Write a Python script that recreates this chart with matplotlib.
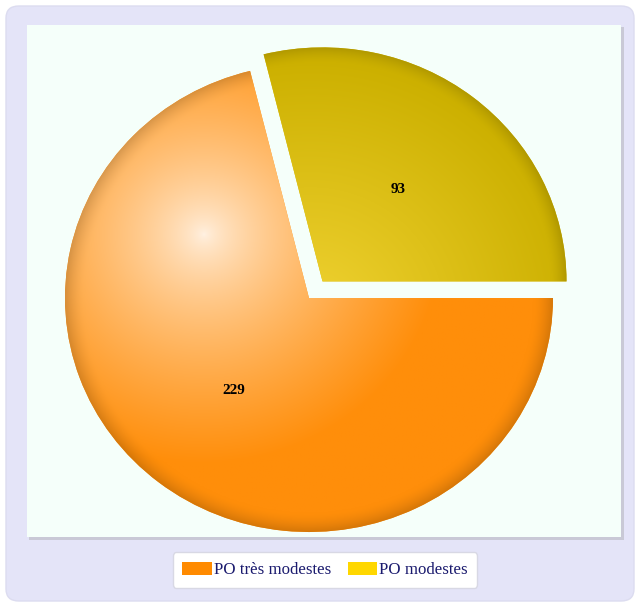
import numpy as np
import matplotlib
matplotlib.use("Agg")
import matplotlib.pyplot as plt
from matplotlib.patches import FancyBboxPatch, Rectangle, Patch
from matplotlib.colors import to_rgb

# ---- data ----
categories = ["PO très modestes", "PO modestes"]
values = [229, 93]
legend_colors = ["#ff8a00", "#ffd700"]
explode = [0.0, 0.09]

W, H = 637, 604
fig = plt.figure(figsize=(W / 100, H / 100), dpi=100)
fig.patch.set_facecolor("white")

def fbox(x0, y0, x1, y1):
    return (x0 / W, 1 - y1 / H, (x1 - x0) / W, (y1 - y0) / H)

# outer lavender rounded box
bx = fbox(6, 6, 634, 601)
fig.patches.append(FancyBboxPatch((bx[0], bx[1]), bx[2], bx[3],
                                  boxstyle="round,pad=0,rounding_size=0.02",
                                  transform=fig.transFigure, facecolor="#e4e4f8",
                                  edgecolor="#dcdcf0", lw=1, zorder=0))
# panel shadow + panel
sx = fbox(29, 27, 624, 540)
fig.patches.append(Rectangle((sx[0], sx[1]), sx[2], sx[3], transform=fig.transFigure,
                             facecolor="#c9c9d6", edgecolor="none", zorder=0.1))
px = fbox(27, 25, 621, 537)
fig.patches.append(Rectangle((px[0], px[1]), px[2], px[3], transform=fig.transFigure,
                             facecolor="#f5fffa", edgecolor="none", zorder=0.2))

# pie axes (ellipse 488 x 468 px centred at 309,298), padded so exploded slice fits
L = 1.15
RX, RY, CX, CY = 244, 234, 309, 298
ax = fig.add_axes(fbox(CX - RX * L, CY - RY * L, CX + RX * L, CY + RY * L))
ax.set_zorder(3)
ax.set_facecolor("none")
total = sum(values)
wedges, texts, autotexts = ax.pie(
    values, explode=explode, startangle=0, counterclock=False,
    colors=["#ff9a20", "#d8bc10"],
    autopct=lambda p: f"{round(p * total / 100)}", pctdistance=0.5,
    textprops=dict(family="Liberation Serif", fontweight="bold", fontsize=11, color="black"),
    wedgeprops=dict(linewidth=0))
ax.axis("off")

# gradients
n = 700
gx = np.linspace(-L, L, n)
GX, GY = np.meshgrid(gx, gx)

def grad_image(cx, cy, hx, hy, c_hi, c_base, scale, power, rim, rim_w):
    d = np.hypot(GX - (cx + hx), GY - (cy + hy))
    t = np.clip(d / scale, 0, 1) ** power
    hi = np.array(to_rgb(c_hi))
    base = np.array(to_rgb(c_base))
    img = hi[None, None, :] * (1 - t[..., None]) + base[None, None, :] * t[..., None]
    rr = np.hypot(GX - cx, GY - cy)
    dark = 1 - rim * np.clip((rr - (1 - rim_w)) / rim_w, 0, 1) ** 1.6
    return np.clip(img * dark[..., None], 0, 1)

specs = [
    dict(hx=-0.43, hy=0.27, c_hi="#fff2e4", c_base="#ff8e0a", scale=0.98, power=0.7,
         rim=0.16, rim_w=0.08),
    dict(hx=-0.05, hy=-0.15, c_hi="#f0d232", c_base="#ccb000", scale=1.1, power=1.0,
         rim=0.14, rim_w=0.07),
]
for w, s in zip(wedges, specs):
    cx, cy = w.center
    img = grad_image(cx, cy, s["hx"], s["hy"], s["c_hi"], s["c_base"],
                     s["scale"], s["power"], s["rim"], s["rim_w"])
    im = ax.imshow(img, extent=(-L, L, -L, L), origin="lower",
                   aspect="auto", zorder=w.get_zorder() + 0.1, interpolation="bilinear")
    im.set_clip_path(w)
for t in autotexts:
    t.set_zorder(5)
ax.set_aspect("auto")
ax.set_xlim(-L, L)
ax.set_ylim(-L, L)

# legend
handles = [Patch(facecolor=c, edgecolor="none") for c in legend_colors]
leg = fig.legend(handles, categories, loc="center",
                 bbox_to_anchor=(325 / W, 1 - 570 / H), ncol=2, frameon=True,
                 fancybox=True, facecolor="white", edgecolor="#d8d8e4",
                 prop=dict(family="Liberation Serif", size=12.2),
                 handlelength=1.75, handleheight=0.8, handletextpad=0.1,
                 columnspacing=1.0, borderpad=0.55, framealpha=1)
for t in leg.get_texts():
    t.set_color("#1a1a6e")

fig.savefig("out.png", dpi=100)
